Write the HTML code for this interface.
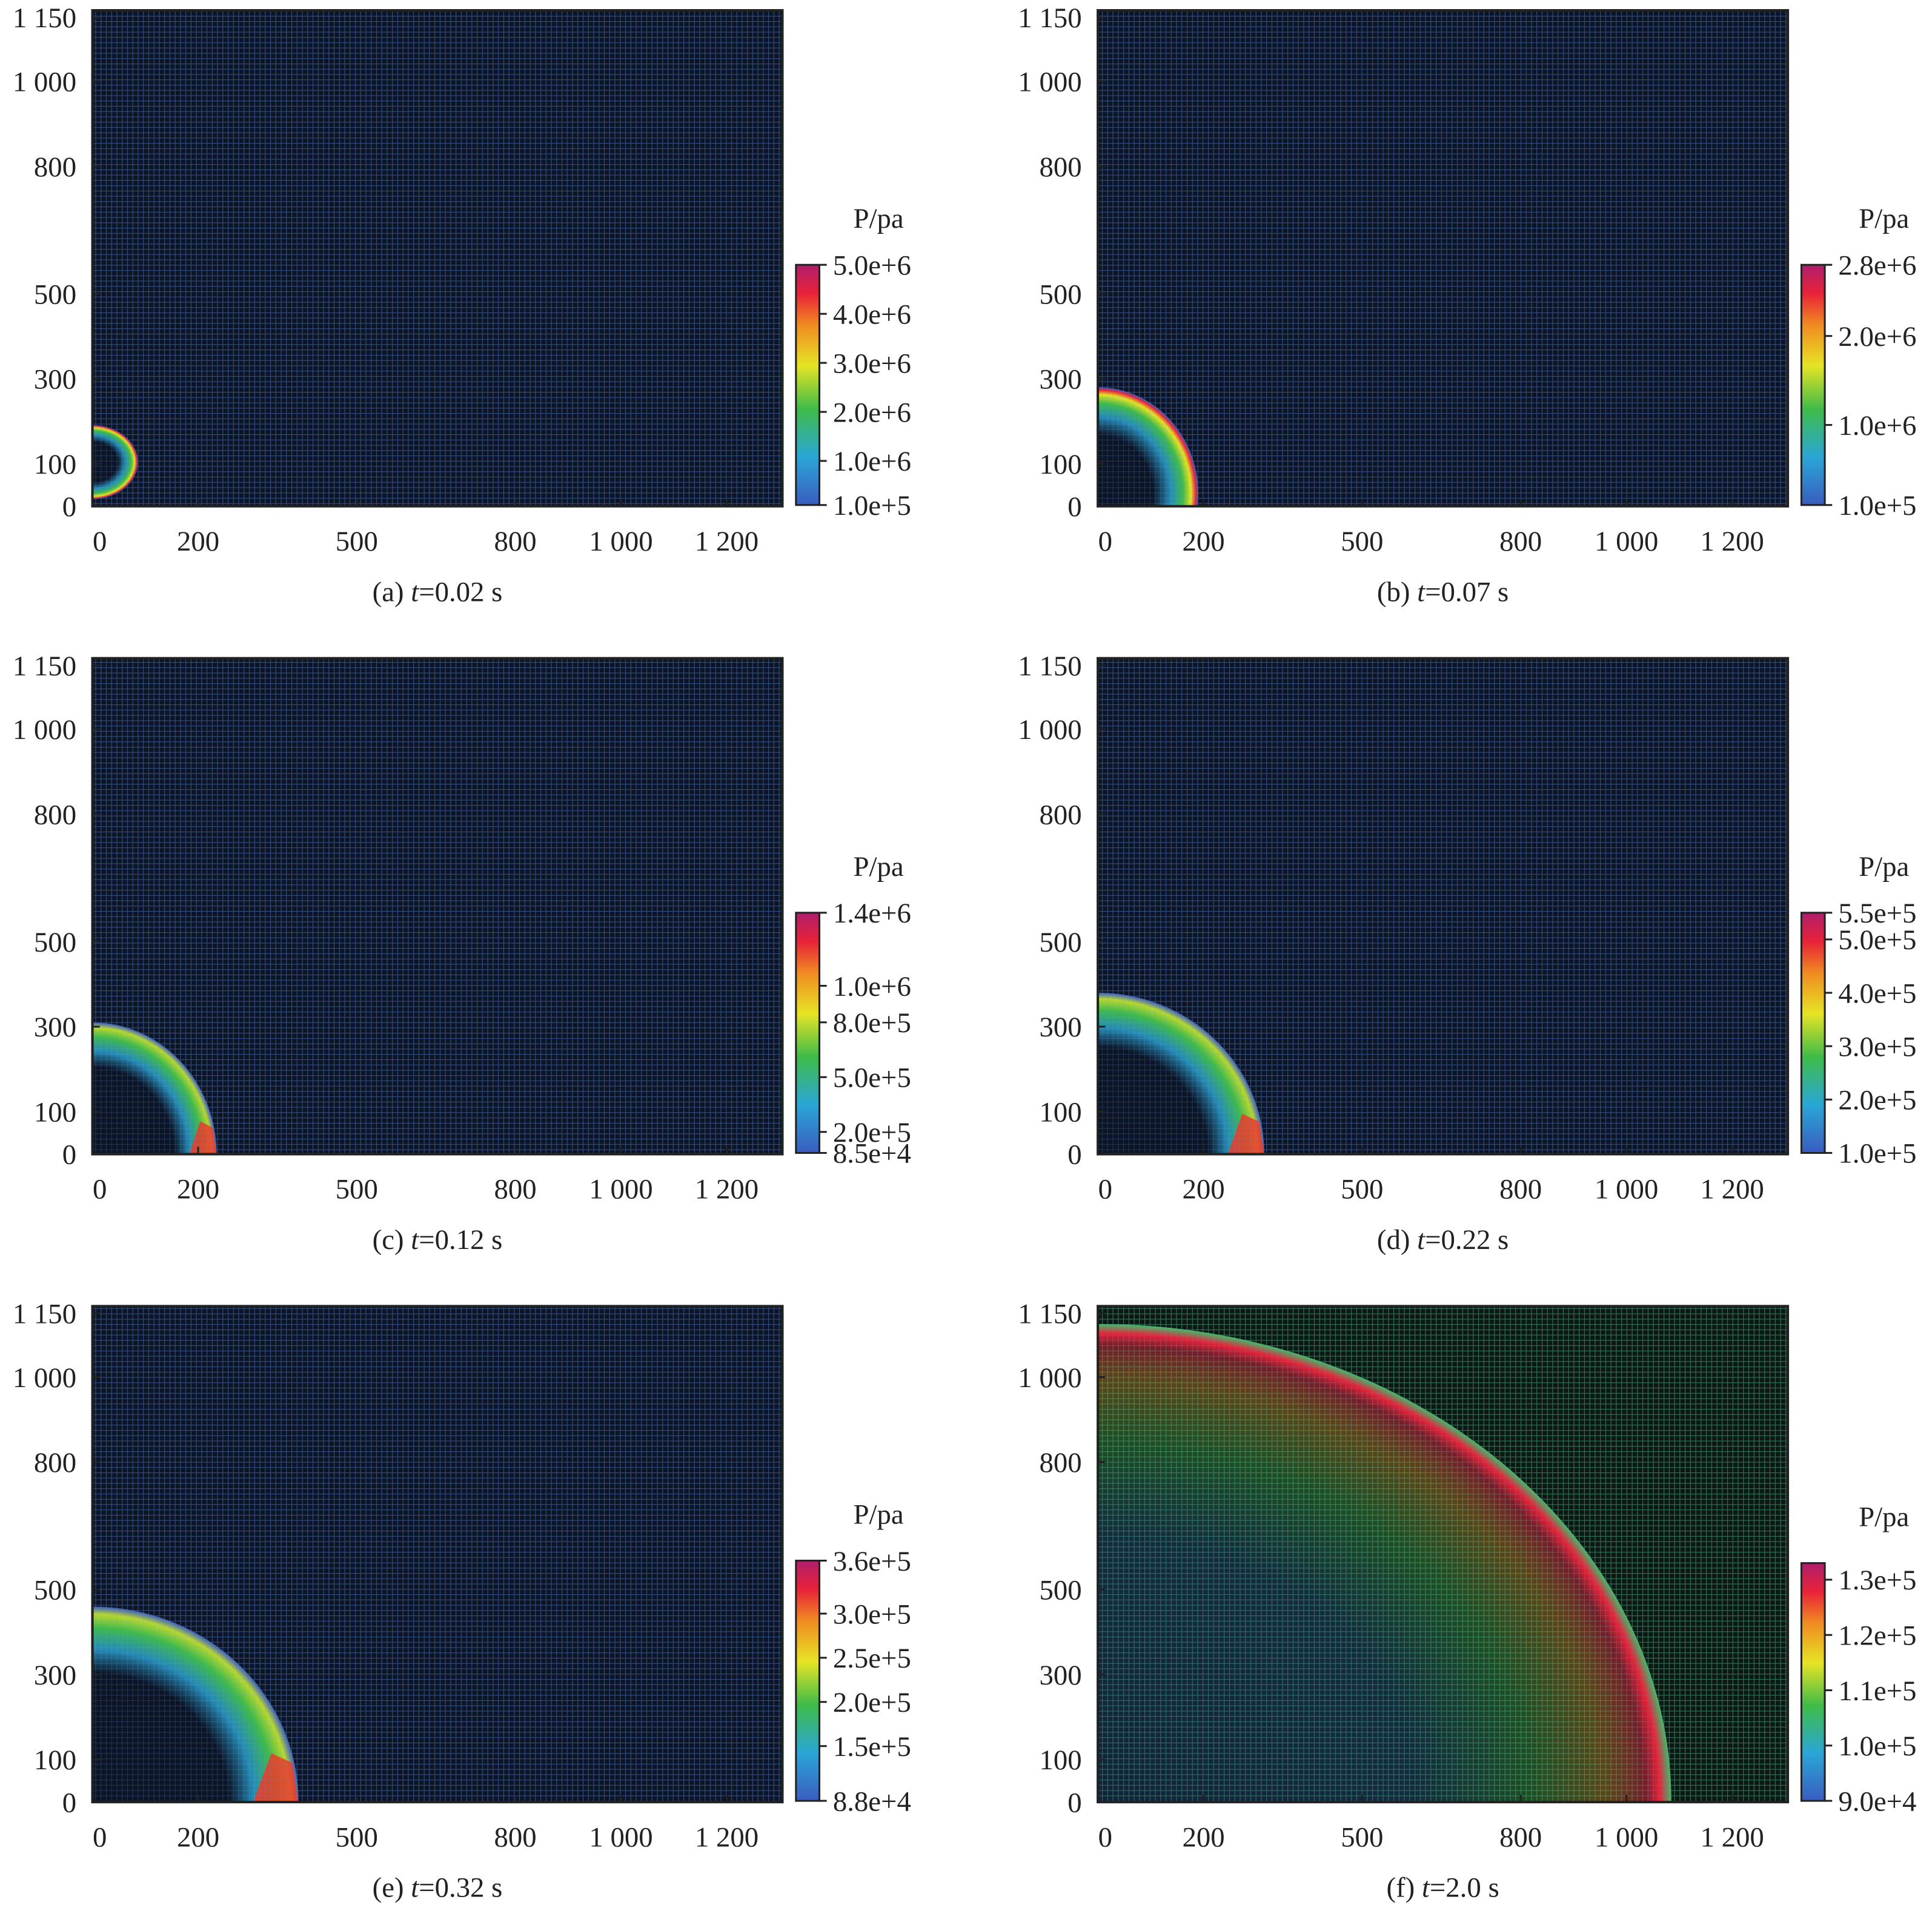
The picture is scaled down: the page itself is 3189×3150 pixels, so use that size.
<!DOCTYPE html>
<html><head><meta charset="utf-8"><style>
html,body{margin:0;padding:0;background:#fff;overflow:hidden;width:3189px;height:3150px}
svg{display:block}
text{font-family:"Liberation Serif",serif;fill:#222}
</style></head><body>
<svg id="fig" width="3189" height="3150" viewBox="0 0 1568 1549" preserveAspectRatio="none" xmlns="http://www.w3.org/2000/svg">
<defs>
<pattern id="gridB" width="4.3" height="4.3" patternUnits="userSpaceOnUse"><rect width="4.3" height="4.3" fill="#0c1526"/><path d="M0 0H4.3M0 0V4.3" stroke="#3a5c9e" stroke-width="1.1" opacity="0.6"/></pattern>
<pattern id="gridG" width="4.3" height="4.3" patternUnits="userSpaceOnUse"><rect width="4.3" height="4.3" fill="#0b1912"/><path d="M0 0H4.3M0 0V4.3" stroke="#3aa062" stroke-width="1.1" opacity="0.6"/></pattern>
<pattern id="gridD" width="4.3" height="4.3" patternUnits="userSpaceOnUse"><path d="M0 0H4.3M0 0V4.3" stroke="#6a8fd0" stroke-width="1" opacity="0.18"/></pattern>
<linearGradient id="cbar" x1="0" y1="1" x2="0" y2="0">
<stop offset="0" stop-color="#3a5cc0"/><stop offset="0.2" stop-color="#2aa6d6"/><stop offset="0.4" stop-color="#3fbb48"/><stop offset="0.58" stop-color="#e6e424"/><stop offset="0.75" stop-color="#f08a22"/><stop offset="0.88" stop-color="#e82238"/><stop offset="1" stop-color="#b01e6c"/>
</linearGradient>
<radialGradient id="ringEarly" cx="0.5" cy="0.5" r="0.5">
<stop offset="0" stop-color="#0b1424" stop-opacity="0.7"/><stop offset="0.55" stop-color="#0b1424" stop-opacity="0.7"/><stop offset="0.72" stop-color="#2aa6d6" stop-opacity="0.8"/><stop offset="0.85" stop-color="#3fbb48"/><stop offset="0.93" stop-color="#e6e424"/><stop offset="0.975" stop-color="#e82238"/><stop offset="1" stop-color="#3a5cc0"/>
</radialGradient>
<radialGradient id="ringMid" cx="0.5" cy="0.5" r="0.5">
<stop offset="0" stop-color="#0b1424" stop-opacity="0.7"/><stop offset="0.66" stop-color="#0b1424" stop-opacity="0.7"/><stop offset="0.78" stop-color="#2aa6d6" stop-opacity="0.8"/><stop offset="0.89" stop-color="#3fbb48"/><stop offset="0.96" stop-color="#b8d830"/><stop offset="1" stop-color="#3a5cc0"/>
</radialGradient>
<radialGradient id="ringLate" cx="0.5" cy="0.5" r="0.5">
<stop offset="0" stop-color="#203e8a" stop-opacity="0.3"/><stop offset="0.55" stop-color="#25569a" stop-opacity="0.3"/><stop offset="0.75" stop-color="#3fae48" stop-opacity="0.35"/><stop offset="0.88" stop-color="#c88a22" stop-opacity="0.4"/><stop offset="0.955" stop-color="#c8203a" stop-opacity="0.55"/><stop offset="0.98" stop-color="#e82238"/><stop offset="1" stop-color="#3fbb6a"/>
</radialGradient>
</defs>
<g id="root"></g>
</svg>
<script>
const panelLabels = ["(a)","(b)","(c)","(d)","(e)","(f)"];
const panelTimes = ["0.02","0.07","0.12","0.22","0.32","2.0"];
const shockRx = [86, 190, 235, 315, 390, 1085];
const shockRy = [87, 250, 310, 380, 460, 1125];
const shockCy = [104, 30, 0, 0, 0, 0];
const cbarMin = [1.0e5, 1.0e5, 8.5e4, 1.0e5, 8.8e4, 9.0e4];
const cbarMax = [5.0e6, 2.8e6, 1.4e6, 5.5e5, 3.6e5, 1.33e5];
const cbarTicks = [
 [5.0e6,4.0e6,3.0e6,2.0e6,1.0e6,1.0e5],
 [2.8e6,2.0e6,1.0e6,1.0e5],
 [1.4e6,1.0e6,8.0e5,5.0e5,2.0e5,8.5e4],
 [5.5e5,5.0e5,4.0e5,3.0e5,2.0e5,1.0e5],
 [3.6e5,3.0e5,2.5e5,2.0e5,1.5e5,8.8e4],
 [1.3e5,1.2e5,1.1e5,1.0e5,9.0e4]
];
const xTicks = [0,200,500,800,1000,1200];
const yTicks = [0,100,300,500,800,1000,1150];
const xMax = 1305, yMax = 1167;

const NS="http://www.w3.org/2000/svg";
const root=document.getElementById('root');
function el(tag,attrs,parent){const e=document.createElementNS(NS,tag);for(const k in attrs)e.setAttribute(k,attrs[k]);(parent||root).appendChild(e);return e;}
function fmtNum(v){const s=String(v);return s.length>3?s.slice(0,s.length-3)+" "+s.slice(-3):s;}
function fmtExp(v){const e=Math.floor(Math.log10(v)+1e-9);const m=(v/Math.pow(10,e)).toFixed(1);return m+"e+"+e;}

for(let i=0;i<6;i++){
  const col=i%2,row=Math.floor(i/2);
  const ox=col*816, oy=row*526;
  const L=75+ox, B=411+oy, R=635+ox, T=B-yMax*0.345;
  const sx=v=>L+v*0.429, sy=v=>B-v*0.345;
  const g=el('g',{});
  
  
  const cid='clip'+i;
  const cp=el('clipPath',{id:cid},g);el('rect',{x:L,y:T,width:R-L,height:B-T},cp);
  const plot=el('g',{'clip-path':'url(#'+cid+')'},g);
  
  
  el('rect',{x:L,y:T,width:R-L,height:B-T,fill:i===5?'url(#gridG)':'url(#gridB)'},plot);
  const rx=shockRx[i]*0.429, ry=shockRy[i]*0.345;
  const grad=i===5?'ringLate':(i<2?'ringEarly':'ringMid');
  const sh=el('ellipse',{cx:sx(0),cy:sy(shockCy[i]),rx:rx,ry:ry,fill:'url(#'+grad+')'},plot);
  
  
  if(i>=2&&i<5){
    const w=rx*0.22;
    const hp=el('path',{d:`M${sx(0)+rx-w} ${B} L${sx(0)+rx-w*0.6} ${B-ry*0.25} L${sx(0)+rx*0.97} ${B-ry*0.2} L${sx(0)+rx} ${B} Z`,fill:'#ec3a2a',opacity:0.85},plot);
    
    
  }
  el('rect',{x:L,y:T,width:R-L,height:B-T,fill:'url(#gridD)'},plot);
  const fr=el('rect',{x:L,y:T,width:R-L,height:B-T,fill:'none',stroke:'#222','stroke-width':2},g);
  
  
  xTicks.forEach(v=>{
    const x=sx(v);
    el('line',{x1:x,x2:x,y1:B,y2:B-6,stroke:'#222','stroke-width':1.5},g);
    const t=el('text',{x:v===0?x+6:x,y:B+36,'font-size':23,'text-anchor':'middle'},g);
    t.textContent=fmtNum(v);
    
    
  });
  yTicks.forEach(v=>{
    const y=sy(v);
    el('line',{x1:L,x2:L+6,y1:y,y2:y,stroke:'#222','stroke-width':1.5},g);
    const t=el('text',{x:L-13,y:y+8,'font-size':23,'text-anchor':'end'},g);
    t.textContent=fmtNum(v);
    
    
  });
  const cx=646+ox, cb=B-1, ct=cb-195+(i===5?2:0);
  const cbr=el('rect',{x:cx,y:ct,width:19,height:cb-ct,fill:'url(#cbar)',stroke:'#222','stroke-width':1.5},g);
  
  
  const ttl=el('text',{x:cx+67,y:ct-30,'font-size':23,'text-anchor':'middle'},g);
  ttl.textContent='P/pa';
  
  
  cbarTicks[i].forEach(v=>{
    const y=cb-(v-cbarMin[i])/(cbarMax[i]-cbarMin[i])*(cb-ct);
    el('line',{x1:cx+19,x2:cx+25,y1:y,y2:y,stroke:'#222','stroke-width':1.5},g);
    const t=el('text',{x:cx+30,y:y+8,'font-size':23},g);
    t.textContent=fmtExp(v);
    
    
  });
  const cap=el('text',{x:(L+R)/2,y:B+77,'font-size':23,'text-anchor':'middle'},g);
  cap.innerHTML=panelLabels[i]+' <tspan font-style="italic">t</tspan>='+panelTimes[i]+' s';
  
  
}
</script>
</body></html>
